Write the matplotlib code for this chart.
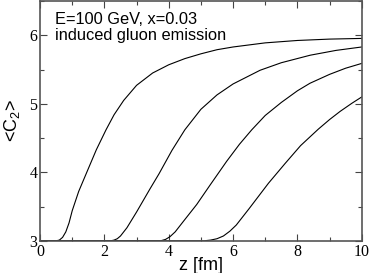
import matplotlib
matplotlib.use("Agg")
import matplotlib.pyplot as plt
from matplotlib.ticker import MultipleLocator

plt.rcParams['mathtext.fontset'] = 'custom'
plt.rcParams['mathtext.rm'] = 'Liberation Sans'
plt.rcParams['mathtext.it'] = 'Liberation Sans'

# <C2> vs z (one curve per onset)
z1 = [0.0, 0.5, 0.6, 0.7, 0.8, 0.9, 1.0, 1.2, 1.47, 1.75, 2.05, 2.3, 2.6, 3.0,
      3.5, 4.0, 4.5, 5.0, 5.5, 6.0, 7.0, 8.0, 9.0, 10.0]
c1 = [3.0, 3.0, 3.01, 3.05, 3.13, 3.26, 3.44, 3.72, 4.02, 4.33, 4.62, 4.84, 5.05, 5.27,
      5.45, 5.57, 5.66, 5.73, 5.79, 5.83, 5.89, 5.925, 5.945, 5.955]

z2 = [0.0, 2.1, 2.2, 2.3, 2.4, 2.5, 2.7, 3.0, 3.42, 3.7, 4.1, 4.5, 5.0, 5.5,
      6.0, 6.84, 7.5, 8.4, 9.2, 10.0]
c2 = [3.0, 3.0, 3.0, 3.01, 3.03, 3.07, 3.19, 3.42, 3.76, 3.98, 4.32, 4.62, 4.92, 5.13,
      5.29, 5.49, 5.6, 5.71, 5.78, 5.83]

z3 = [0.0, 3.6, 3.75, 3.9, 4.04, 4.2, 4.45, 4.87, 5.28, 5.8, 6.2, 6.58, 7.0, 7.5,
      8.0, 8.39, 9.0, 9.5, 10.0]
c3 = [3.0, 3.0, 3.0, 3.02, 3.06, 3.13, 3.28, 3.53, 3.81, 4.16, 4.41, 4.62, 4.83, 5.02,
      5.19, 5.3, 5.43, 5.52, 5.59]

z4 = [0.0, 5.1, 5.3, 5.5, 5.7, 5.9, 6.1, 6.5, 7.1, 7.62, 8.1, 8.65, 9.0, 9.33,
      9.7, 10.0]
c4 = [3.0, 3.0, 3.01, 3.03, 3.07, 3.14, 3.23, 3.47, 3.84, 4.13, 4.39, 4.63, 4.77, 4.89,
      5.01, 5.10]

curves = [(z1, c1), (z2, c2), (z3, c3), (z4, c4)]

xticks = [0, 2, 4, 6, 8, 10]
yticks = [3, 4, 5, 6]

fig = plt.figure(figsize=(3.71, 2.73), dpi=100)
ax = fig.add_axes([0.108, 0.118, 0.867, 0.878])

for z, c in curves:
    ax.plot(z, c, color='black', lw=0.8)

serif = ['Liberation Serif', 'DejaVu Serif']
ax.set_xticks(xticks, [str(t) for t in xticks], fontfamily=serif, fontsize=11.5)
ax.set_yticks(yticks, [str(t) for t in yticks], fontfamily=serif, fontsize=11.5)
ax.xaxis.set_minor_locator(MultipleLocator(1))
ax.yaxis.set_minor_locator(MultipleLocator(0.5))
ax.set_xlim(0, 10)
ax.set_ylim(3, 6.5)
ax.tick_params(which='both', direction='in', top=True, right=True,
               width=0.8, colors='#444444', labelcolor='black')
ax.tick_params(which='major', length=5, pad=2)
ax.tick_params(which='minor', length=3)
for s in ax.spines.values():
    s.set_linewidth(1.2)
    s.set_color('#555555')

ax.set_xlabel('z [fm]', family='Liberation Sans', fontsize=13, labelpad=-2)
ax.set_ylabel(r'<C$_{2}$>', family='Liberation Sans', fontsize=13, labelpad=5)

ax.text(0.047, 0.955, 'E=100 GeV, x=0.03\ninduced gluon emission',
        transform=ax.transAxes, ha='left', va='top',
        family='Liberation Sans', fontsize=11.8, linespacing=1.12)

fig.savefig('out.png', dpi=100)
